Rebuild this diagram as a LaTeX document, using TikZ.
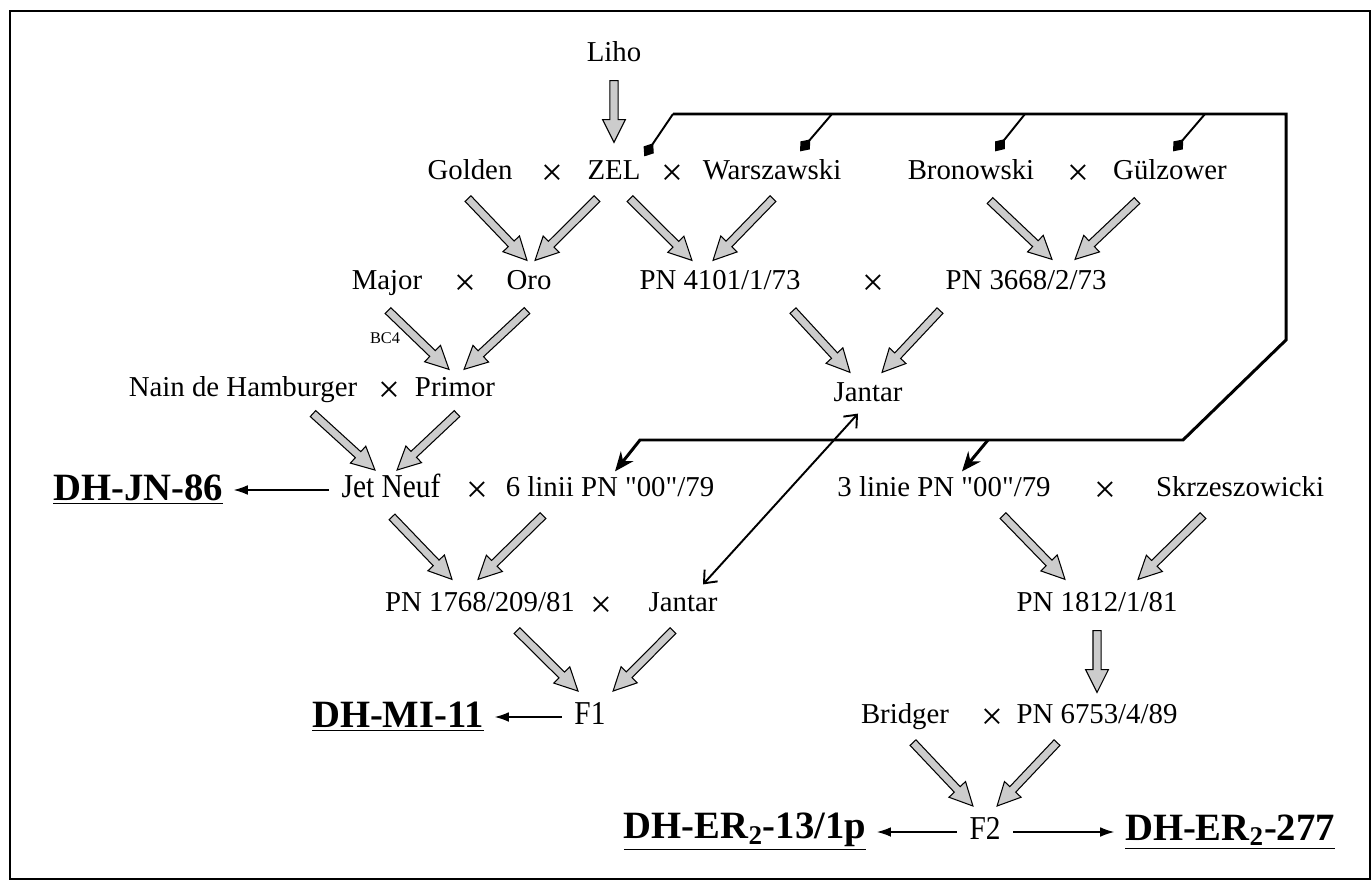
\documentclass[tikz,border=0pt]{standalone}
\usepackage{fontspec}
\setmainfont{Liberation Serif}
\newfontfamily\narrowfont[FakeStretch=0.88]{Liberation Serif}
\usetikzlibrary{arrows.meta,calc}
\tikzset{
  >=Stealth,
  nm/.style={font=\fontsize{16.4}{18}\selectfont,inner sep=2pt,text height=11pt,text depth=3.5pt},
  sm/.style={font=\narrowfont\fontsize{19}{21}\selectfont,inner sep=2pt,text height=12.5pt,text depth=3.5pt},
  note/.style={font=\fontsize{9.3}{11}\selectfont,inner sep=1pt},
  res/.style={font=\fontsize{22}{24}\selectfont\bfseries,inner sep=2pt},
  cross/.style={font=\fontsize{22}{22}\selectfont,inner sep=0pt},
  fat/.style={draw=black,fill=black!20,line width=0.6pt,
    to path={let \p1=($(\tikztotarget)-(\tikztostart)$),
      \n1={atan2(\y1,\x1)},\n2={veclen(\x1,\y1)} in
      [shift={(\tikztostart)},rotate=\n1]
      (0pt,-2.3pt) -- ({\n2-13pt},-2.3pt) -- ({\n2-13pt},-6.5pt) -- (\n2,0pt)
      -- ({\n2-13pt},6.5pt) -- ({\n2-13pt},2.3pt) -- (0pt,2.3pt) -- cycle}},
  link/.style={line width=1.7pt,-{Stealth[length=11pt,width=9pt]}},
  tie/.style={line width=1.1pt,-{Diamond[length=9pt,width=7pt]}},
  both/.style={line width=1.1pt,{Straight Barb[length=6pt,width=10pt]}-{Straight Barb[length=6pt,width=10pt]}},
  give/.style={line width=0.7pt,-{Latex[length=8pt,width=5.5pt]}}
}
\newcommand\q{\textquotedbl}
\begin{document}
\begin{tikzpicture}[x=0.02cm,y=-0.02cm]
\useasboundingbox (0,0) rectangle (1372,881);
\draw[line width=1.3pt] (10,11) rectangle (1370,879);
% parents
\node[nm](liho)at(614,55){Liho};
\node[nm](golden)at(470,173){Golden};
\node[nm](zel)at(614,173){ZEL};
\node[nm](warsz)at(772,173){Warszawski};
\node[nm](bron)at(971,173){Bronowski};
\node[nm](gulz)at(1170,173){Gülzower};
\node[nm](major)at(387,283){Major};
\node[nm](oro)at(529,283){Oro};
\node[nm](pn4101)at(720,283){PN 4101/1/73};
\node[nm](pn3668)at(1026,283){PN 3668/2/73};
\node[note](bc4)at(385,338){BC4};
\node[nm](nain)at(243,390){Nain de Hamburger};
\node[nm](primor)at(455,390){Primor};
\node[nm](jantarA)at(868,395){Jantar};
\node[sm](jetneuf)at(391,490){Jet Neuf};
\node[nm](linii6)at(610,490){6 linii PN \q00\q/79};
\node[nm](linie3)at(944,490){3 linie PN \q00\q/79};
\node[nm](skrz)at(1240,490){Skrzeszowicki};
\node[nm](pn1768)at(480,605){PN 1768/209/81};
\node[nm](jantarB)at(683,605){Jantar};
\node[nm](pn1812)at(1097,605){PN 1812/1/81};
\node[sm](f1)at(590,717){F1};
\node[nm](bridger)at(905,717){Bridger};
\node[nm](pn6753)at(1097,717){PN 6753/4/89};
\node[sm](f2)at(985,832){F2};
% results
\node[res](dhjn)at(138,490){\underline{DH-JN-86}};
\node[res](dhmi)at(398,717){\underline{DH-MI-11}};
\node[res](dher13)at(745,832){\underline{DH-ER\textsubscript{2}-13/1p}};
\node[res](dher277)at(1230,832){\underline{DH-ER\textsubscript{2}-277}};
% crosses
\foreach \n/\x/\y in {1/552/175,2/672/175,3/1078/175,4/465/285,5/873/285,6/389/392,
  7/477/492,8/1105/492,9/601/607,10/992/719}
  \node[cross](c\n)at(\x,\y){×};
% crossings
\draw[fat] ($(liho.south)+(0,9)$) to ($(zel.north)+(0,-14)$);
\draw[fat] ($(golden.south)+(-2,9)$) to ($(oro.north)+(-2,-6)$);
\draw[fat] ($(zel.south)+(-17,9)$) to ($(oro.north)+(6,-6)$);
\draw[fat] ($(zel.south)+(16,9)$) to ($(pn4101.north)+(-28,-6)$);
\draw[fat] ($(warsz.south)+(1,9)$) to ($(pn4101.north)+(-7,-6)$);
\draw[fat] ($(bron.south)+(19,11)$) to ($(pn3668.north)+(26,-7)$);
\draw[fat] ($(gulz.south)+(-33,11)$) to ($(pn3668.north)+(49,-7)$);
\draw[fat] ($(major.south)+(1,11)$) to ($(primor.north)+(-6,-4)$);
\draw[fat] ($(oro.south)+(-2,11)$) to ($(primor.north)+(9,-4)$);
\draw[fat] ($(pn4101.south)+(73,11)$) to ($(jantarA.north)+(-18,-6)$);
\draw[fat] ($(pn3668.south)+(-86,11)$) to ($(jantarA.north)+(14,-6)$);
\draw[fat] ($(nain.south)+(70,7)$) to ($(jetneuf.north)+(-16,-2)$);
\draw[fat] ($(primor.south)+(2,7)$) to ($(jetneuf.north)+(6,-2)$);
\draw[fat] ($(jetneuf.south)+(1,9)$) to ($(pn1768.north)+(-28,-9)$);
\draw[fat] ($(linii6.south)+(-67,9)$) to ($(pn1768.north)+(-2,-9)$);
\draw[fat] ($(linie3.south)+(59,9)$) to ($(pn1812.north)+(-32,-9)$);
\draw[fat] ($(skrz.south)+(-37,9)$) to ($(pn1812.north)+(41,-9)$);
\draw[fat] ($(pn1768.south)+(37,9)$) to ($(f1.north)+(-12,-8)$);
\draw[fat] ($(jantarB.south)+(-10,9)$) to ($(f1.north)+(23,-8)$);
\draw[fat] ($(pn1812.south)+(0,9)$) to ($(pn6753.north)+(0,-8)$);
\draw[fat] ($(bridger.south)+(8,9)$) to ($(f2.north)+(-12,-8)$);
\draw[fat] ($(pn6753.south)+(-40,9)$) to ($(f2.north)+(12,-8)$);
% lines back to the 00 lines
\coordinate (t1) at (673,114);
\coordinate (t2) at (1286,114);
\coordinate (t3) at (1286,340);
\coordinate (t4) at (1183,440);
\coordinate (t5) at (640,440);
\coordinate (b1) at (832,114);
\coordinate (b2) at (1025,114);
\coordinate (b3) at (1205,114);
\coordinate (b4) at (988,440);
\draw[link] (t1) -- (t2) -- (t3) -- (t4) -- (t5) -- ($(linii6.north)+(5,-2)$);
\draw[link] (b4) -- ($(linie3.north)+(18,-2)$);
\draw[tie] (t1) -- (zel.north east);
\draw[tie] (b1) -- ($(warsz.north)+(28,-5)$);
\draw[tie] (b2) -- ($(bron.north)+(24,-5)$);
\draw[tie] (b3) -- ($(gulz.north)+(3,-5)$);
\draw[both] ($(jantarA.south)+(-10,2)$) -- ($(jantarB.north)+(20,-4)$);
% results
\draw[give,shorten <=5pt,shorten >=4pt] (jetneuf.west) -- (dhjn.east);
\draw[give,shorten <=5pt,shorten >=4pt] (f1.west) -- (dhmi.east);
\draw[give,shorten <=5pt,shorten >=4pt] (f2.west) -- (dher13.east);
\draw[give,shorten <=5pt,shorten >=4pt] (f2.east) -- (dher277.west);
\end{tikzpicture}
\end{document}
